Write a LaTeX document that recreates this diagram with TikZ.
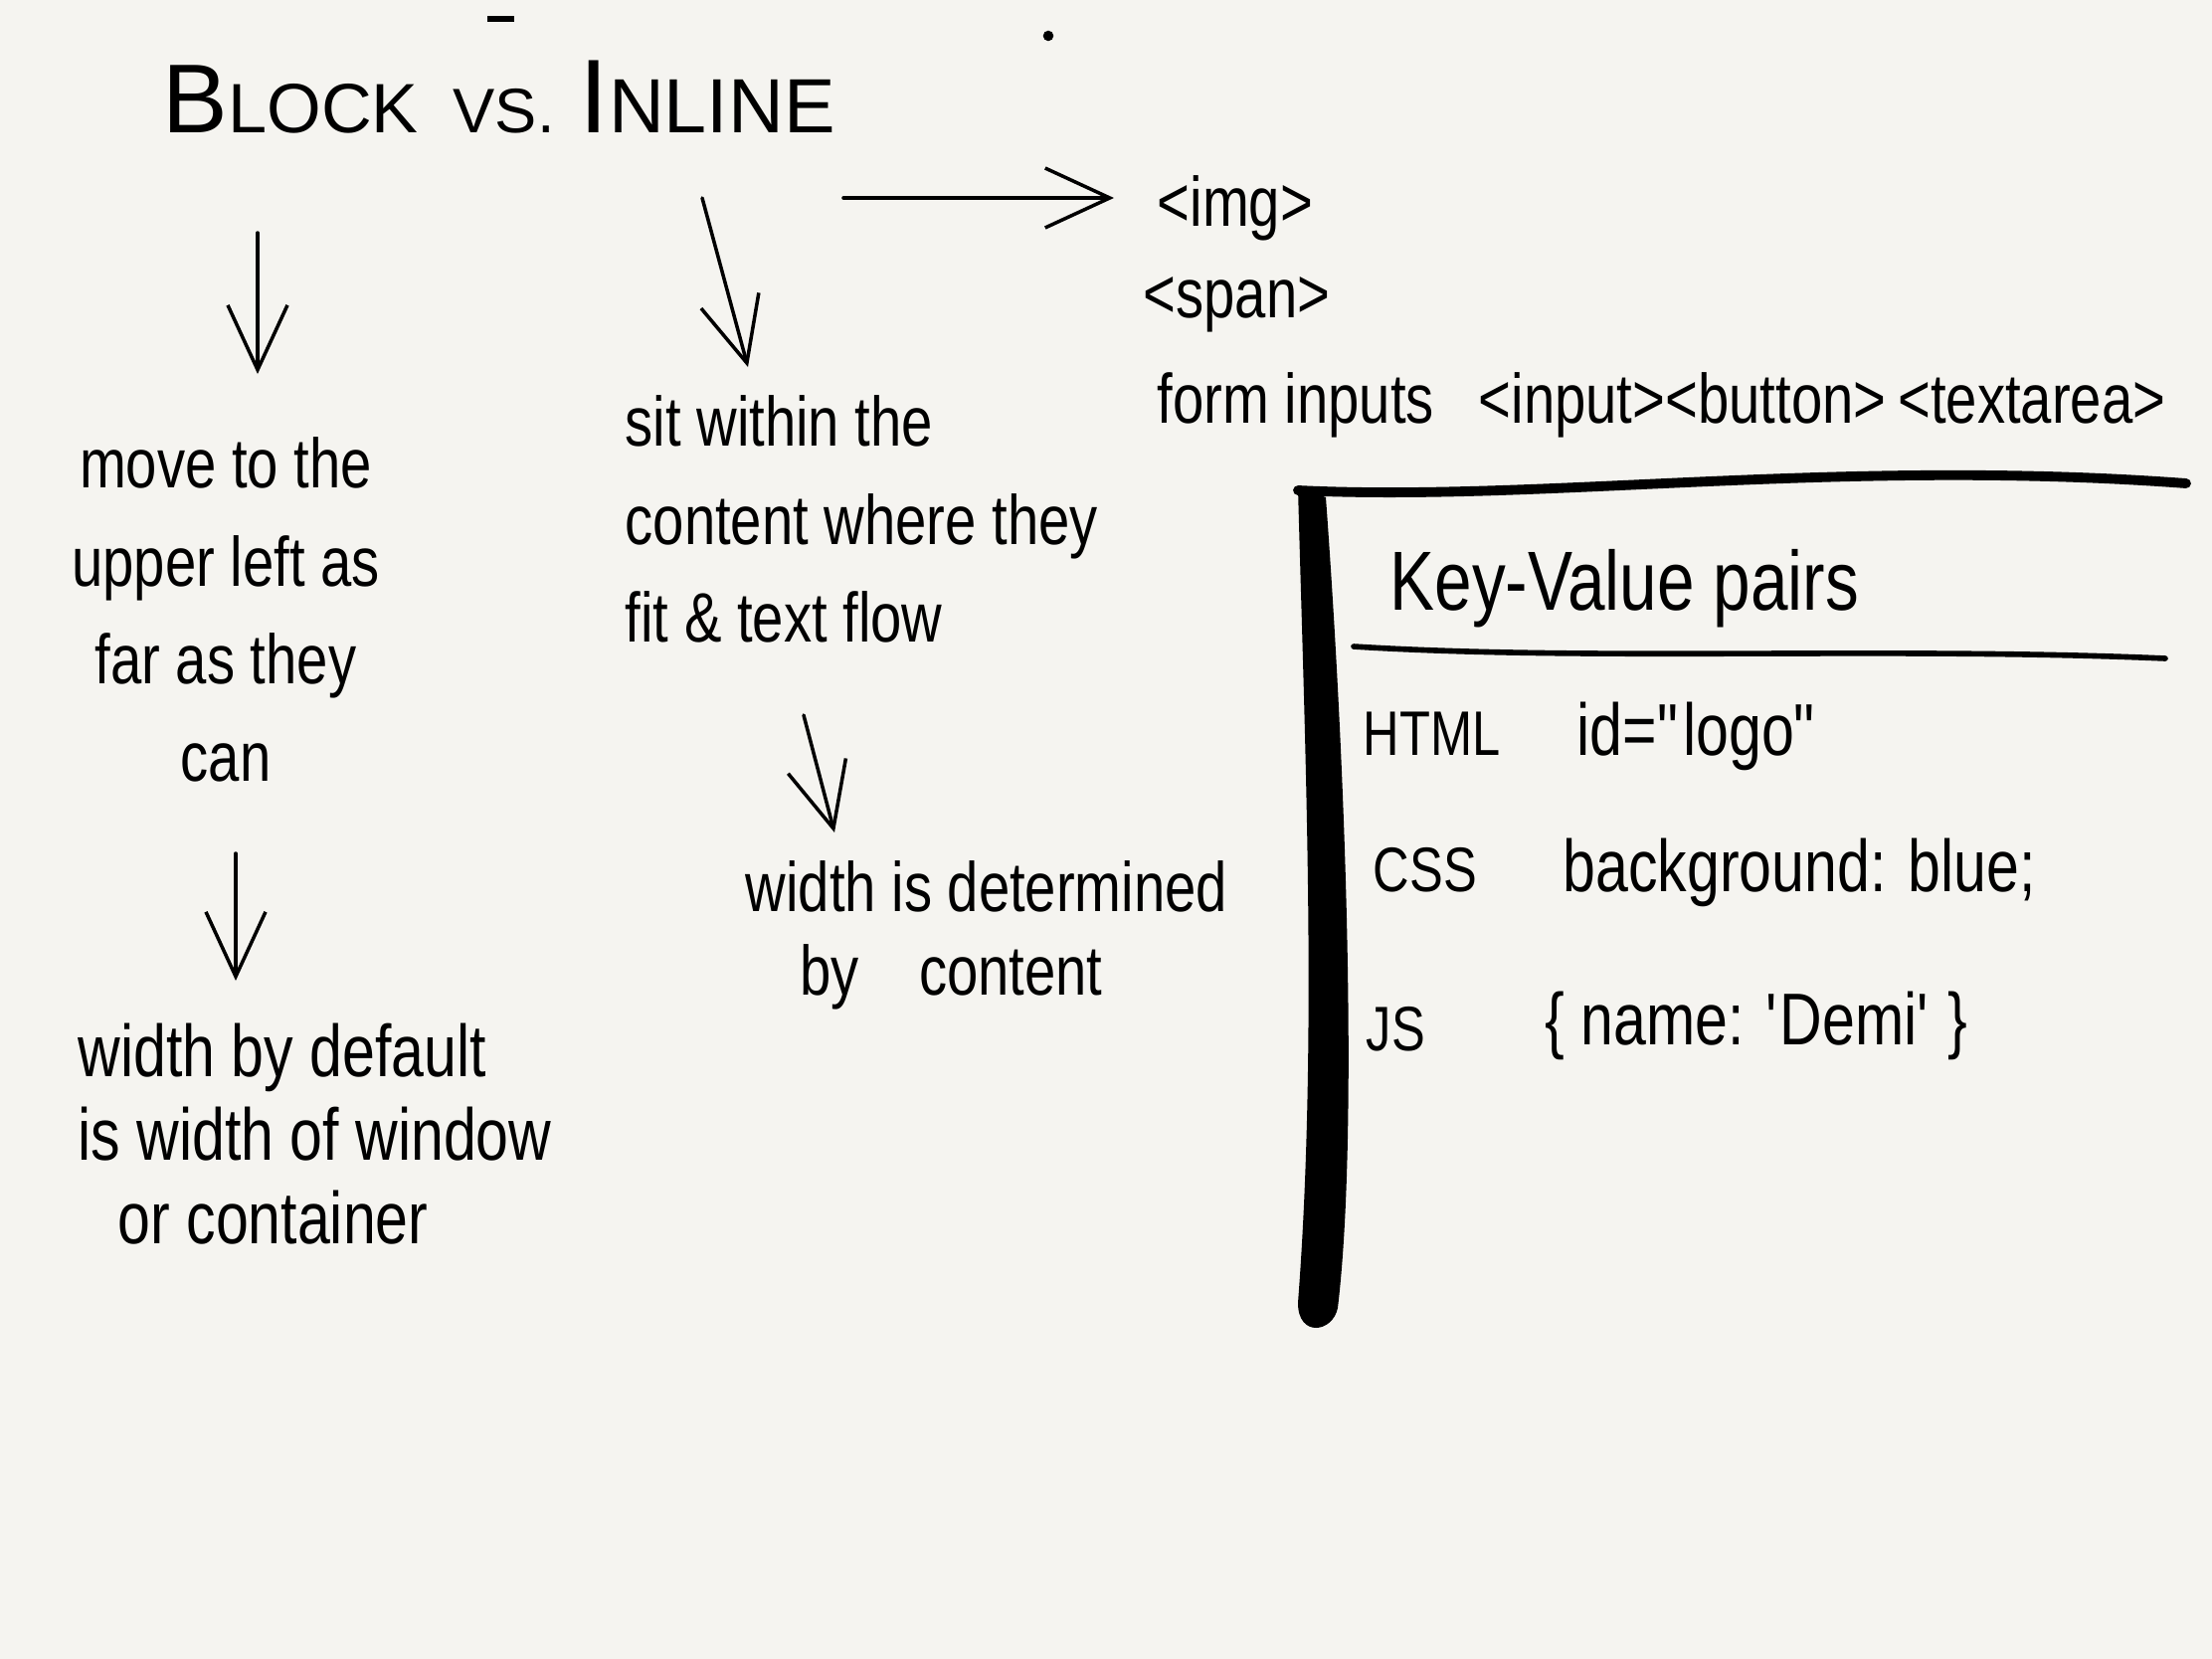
\documentclass[tikz,border=0pt]{standalone}
\usepackage{fontspec}
\setmainfont[FakeStretch=0.8]{Liberation Sans}
\newfontfamily\titlefont{Liberation Sans}
\usetikzlibrary{arrows.meta}
\definecolor{paper}{HTML}{F5F4F0}

\begin{document}
\begin{tikzpicture}[
  hand/.style={inner sep=0pt, font=\fontsize{20}{28}\selectfont},
  arr/.style={-{Straight Barb[length=6.5mm,width=6mm]}, line width=1pt, line cap=round}]
\fill[paper] (0,0) rectangle (22.24,-16.68);
\useasboundingbox (0,0) rectangle (22.24,-16.68);

\node[anchor=base west, inner sep=0pt, font=\titlefont] (n0) at (1.63,-1.33) {\fontsize{28}{30}\selectfont B\fontsize{20}{22}\selectfont LOCK\hspace{0.35cm}\fontsize{18}{20}\selectfont VS.\hspace{0.25cm}\fontsize{30}{30}\selectfont I\fontsize{22}{22}\selectfont NLINE};
\draw[line width=1.5pt] (4.9,-0.19) -- (5.17,-0.19);
\fill (10.54,-0.36) circle (1.5pt);

\node[hand, anchor=north, align=center] (n1) at (2.27,-4.39) {move to the\\upper left as\\far as they\\can};
\node[hand, anchor=north west, align=left, font=\fontsize{21}{24}\selectfont] (n2) at (0.78,-10.28) {width by default\\is width of window\\\hspace*{0.4cm}or container};
\node[hand, anchor=north west, align=left] (n3) at (6.28,-3.97) {sit within the\\content where they\\fit \& text flow};
\node[hand, anchor=north west, align=left, font=\fontsize{20}{24}\selectfont] (n4) at (7.49,-8.65) {width is determined\\\hspace*{0.55cm}by\hspace{0.6cm}content};

\node[hand, anchor=base west] (n5) at (11.63,-2.27) {<img>};
\node[hand, anchor=base west] (n6) at (11.49,-3.19) {<span>};
\node[hand, anchor=base west] (n7) at (11.63,-4.25) {form inputs\hspace{0.45cm}<input><button>\hspace{0.12cm}<textarea>};

\coordinate (a1) at (2.59,-2.34);
\coordinate (a2) at (2.37,-8.58);
\coordinate (a3) at (7.06,-1.99);
\coordinate (b3) at (7.52,-3.69);
\coordinate (a4) at (8.08,-7.19);
\coordinate (b4) at (8.39,-8.37);
\coordinate (a5) at (8.48,-1.99);
\draw[arr, shorten >=6.3mm] (a1) -- (a1 |- n1.north);
\draw[arr, shorten >=4.2mm] (a2) -- (a2 |- n2.north);
\draw[arr] (a3) -- (b3);
\draw[arr] (a4) -- (b4);
\draw[arr, shorten >=4.3mm] (a5) -- (a5 -| n5.west);

\draw[line width=2.8pt, line cap=round] (13.05,-4.93) .. controls (15.5,-5.05) and (18.5,-4.6) .. (21.98,-4.86);
\fill (13.05,-4.9) .. controls (13.12,-7.5) and (13.25,-10.5) .. (13.05,-13.1) .. controls (13.05,-13.45) and (13.4,-13.4) .. (13.45,-13.15) .. controls (13.65,-11.5) and (13.55,-8) .. (13.33,-5.0) -- cycle;
\draw[line width=1.6pt, line cap=round] (13.61,-6.5) .. controls (16,-6.65) and (19,-6.5) .. (21.77,-6.62);

\node[hand, anchor=base west, font=\fontsize{24}{28}\selectfont] (n8) at (13.97,-6.13) {Key-Value pairs};
\node[hand, anchor=base west, font=\fontsize{18}{20}\selectfont] (n9) at (13.7,-7.59) {HTML};
\node[hand, anchor=base west, font=\fontsize{21}{24}\selectfont] (n10) at (15.85,-7.59) {id=\textquotedbl logo\textquotedbl};
\node[hand, anchor=base west, font=\fontsize{18}{20}\selectfont] (n11) at (13.8,-8.96) {CSS};
\node[hand, anchor=base west, font=\fontsize{21}{24}\selectfont] (n12) at (15.71,-8.96) {background: blue;};
\node[hand, anchor=base west, font=\fontsize{18}{20}\selectfont] (n13) at (13.73,-10.56) {JS};
\node[hand, anchor=base west, font=\fontsize{21}{24}\selectfont] (n14) at (15.53,-10.5) {\{ name: \textquotesingle Demi\textquotesingle\ \}};
\end{tikzpicture}
\end{document}
